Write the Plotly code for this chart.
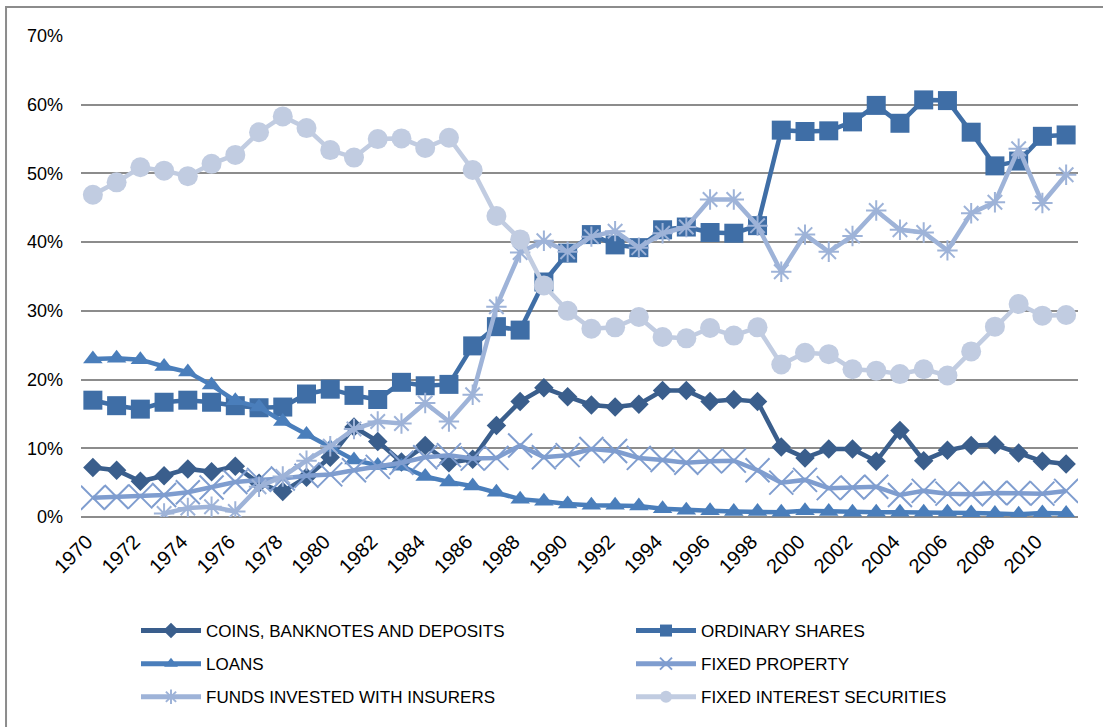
import plotly.graph_objects as go

years = list(range(1970, 2012))

coins = [7.2, 6.8, 5.2, 6.0, 7.0, 6.6, 7.4, 4.9, 3.7, 5.8,
         8.7, 13.1, 11.0, 8.0, 10.4, 7.9, 8.4, 13.3, 16.8, 18.8,
         17.5, 16.3, 16.0, 16.4, 18.4, 18.4, 16.8, 17.1, 16.8, 10.2,
         8.6, 9.9, 9.9, 8.1, 12.6, 8.2, 9.7, 10.4, 10.5, 9.3,
         8.1, 7.7]

shares = [17.0, 16.2, 15.7, 16.7, 17.0, 16.7, 16.2, 15.9, 16.0, 17.9,
          18.6, 17.7, 17.1, 19.6, 19.1, 19.3, 24.9, 27.7, 27.2, 34.2,
          38.4, 41.1, 39.6, 39.2, 41.8, 42.2, 41.4, 41.3, 42.4, 56.3,
          56.1, 56.2, 57.5, 59.9, 57.3, 60.7, 60.6, 56.0, 51.1, 51.8,
          55.4, 55.6]

loans = [23.0, 23.1, 22.9, 21.9, 21.1, 19.2, 16.9, 16.0, 13.9, 12.0,
         10.1, 8.3, 7.5, 7.4, 5.9, 5.1, 4.5, 3.6, 2.6, 2.3,
         1.9, 1.7, 1.7, 1.6, 1.2, 1.0, 0.9, 0.8, 0.8, 0.7,
         0.9, 0.8, 0.7, 0.7, 0.7, 0.7, 0.7, 0.6, 0.5, 0.4,
         0.6, 0.5]

fixed_property = [2.8, 2.9, 3.0, 3.2, 3.6, 4.3, 5.1, 5.4, 5.6, 6.0,
                  6.2, 6.8, 7.3, 7.9, 8.7, 9.0, 8.5, 8.6, 10.4, 8.7,
                  9.0, 9.9, 9.6, 8.6, 8.3, 7.9, 8.1, 8.2, 6.8, 5.0,
                  5.4, 4.2, 4.3, 4.4, 3.2, 3.8, 3.4, 3.3, 3.5, 3.5,
                  3.4, 3.8]

funds_insurers = [None, None, None, 0.5, 1.3, 1.5, 0.8, 4.4, 5.9, 8.2,
                  10.3, 12.8, 13.9, 13.6, 16.6, 13.9, 17.8, 30.6, 38.5, 40.2,
                  38.6, 40.8, 41.6, 39.2, 41.3, 42.2, 46.2, 46.2, 42.4, 35.7,
                  41.1, 38.6, 40.9, 44.6, 41.8, 41.4, 38.8, 44.2, 45.8, 53.6,
                  45.7, 49.8]

fixed_interest = [46.9, 48.7, 50.9, 50.4, 49.6, 51.4, 52.7, 56.0, 58.3, 56.6,
                  53.4, 52.3, 55.0, 55.1, 53.7, 55.2, 50.5, 43.8, 40.4, 33.7,
                  30.0, 27.4, 27.6, 29.1, 26.2, 26.0, 27.5, 26.4, 27.6, 22.2,
                  23.9, 23.7, 21.5, 21.3, 20.8, 21.5, 20.6, 24.1, 27.7, 31.0,
                  29.3, 29.4]

tick_years = list(range(1970, 2012, 2))

series = [
    ("COINS, BANKNOTES AND DEPOSITS", coins, "#3A5E8C", dict(symbol="diamond", size=15), "legend"),
    ("ORDINARY SHARES", shares, "#3F6EA6", dict(symbol="square", size=19), "legend2"),
    ("LOANS", loans, "#4A7EBB", dict(symbol="triangle-up", size=17), "legend"),
    ("FIXED PROPERTY", fixed_property, "#7F9DCF", dict(symbol="x-thin", size=24, line=dict(width=2, color="#7F9DCF")), "legend2"),
    ("FUNDS INVESTED WITH INSURERS", funds_insurers, "#9EB3D8", dict(symbol="asterisk", size=17, line=dict(width=2, color="#9EB3D8")), "legend"),
    ("FIXED INTEREST SECURITIES", fixed_interest, "#C1CCE1", dict(symbol="circle", size=20), "legend2"),
]

fig = go.Figure()
for name, vals, color, marker, leg in series:
    m = dict(color=color)
    m.update(marker)
    fig.add_trace(go.Scatter(
        x=years, y=[None if v is None else v / 100 for v in vals],
        mode="lines+markers", name=name, legend=leg, legendgroup=name,
        line=dict(color=color, width=4.5), marker=m,
    ))

fam = "Liberation Sans, Arial, sans-serif"
font = dict(family=fam, size=17, color="#000000")

leg_common = dict(
    orientation="v", yanchor="top", xanchor="left",
    xref="container", yref="container", y=1 - 613 / 727,
    font=font, itemwidth=60, tracegroupgap=8, bgcolor="rgba(0,0,0,0)",
    itemsizing="constant",
)

fig.update_layout(
    width=1103, height=727,
    margin=dict(l=81, r=25, t=36, b=210, autoexpand=False),
    paper_bgcolor="white", plot_bgcolor="white",
    font=font,
    showlegend=True,
    legend=dict(x=136 / 1103, **leg_common),
    legend2=dict(x=631 / 1103, **leg_common),
    xaxis=dict(
        range=[1969.5, 2011.5], tickmode="array", tickvals=tick_years,
        ticktext=[str(y) for y in tick_years], tickangle=-45,
        showgrid=False, zeroline=False, showline=False, ticks="",
        tickfont=dict(family=fam, size=20, color="#000000"),
        ticklabelstandoff=8, ticklabelshift=-6, automargin=False,
    ),
    yaxis=dict(
        range=[0, 0.7], dtick=0.1, tickformat=".0%",
        showgrid=True, gridcolor="#8C8C8C", gridwidth=2,
        zeroline=True, zerolinecolor="#8C8C8C", zerolinewidth=2,
        showline=False, ticks="", ticklabelstandoff=17,
        tickfont=dict(family=fam, size=18, color="#000000"), automargin=False,
    ),
    shapes=[dict(type="rect", xref="paper", yref="paper",
                 x0=-0.0752, x1=1.05, y0=-0.48, y1=1.0603,
                 line=dict(color="#8C8C8C", width=2), layer="below")],
)

fig.write_html("out.html", config={"displayModeBar": False},
               post_script="document.body.style.margin='0';document.body.style.overflow='hidden';")
